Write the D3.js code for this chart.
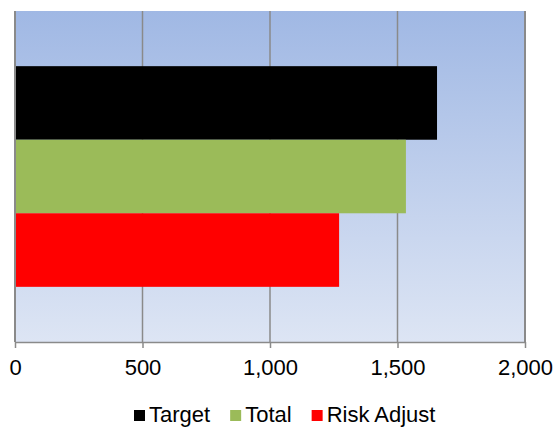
<!DOCTYPE html>
<html>
<head>
<meta charset="utf-8">
<script src="https://cdn.jsdelivr.net/npm/d3@7"></script>
<style>
  body { margin: 0; background: #fff; }
  svg text { font-family: "Liberation Sans", Arial, sans-serif; }
</style>
</head>
<body>
<div id="chart"></div>
<script>
// data
const categories = ["Project"];
const seriesNames = ["Target", "Total", "Risk Adjust"];
const seriesColors = ["#000000", "#9BBB59", "#FF0000"];
const targetValues = [1655];
const totalValues = [1533];
const riskAdjustValues = [1271];
const xTicks = [0, 500, 1000, 1500, 2000];

const seriesValues = [targetValues, totalValues, riskAdjustValues];

const width = 556, height = 427;
const margin = {top: 11, right: 31, bottom: 85, left: 15};
const plotW = width - margin.left - margin.right;
const plotH = height - margin.top - margin.bottom;

const svg = d3.select("#chart").append("svg")
    .attr("width", width)
    .attr("height", height);

// plot background gradient
const defs = svg.append("defs");
const grad = defs.append("linearGradient")
    .attr("id", "bg").attr("x1", 0).attr("y1", 0).attr("x2", 0).attr("y2", 1);
grad.append("stop").attr("offset", "0%").attr("stop-color", "#A0B8E4");
grad.append("stop").attr("offset", "100%").attr("stop-color", "#DDE5F4");

const g = svg.append("g").attr("transform", `translate(${margin.left},${margin.top})`);

g.append("rect")
    .attr("width", plotW).attr("height", plotH)
    .attr("fill", "url(#bg)");

const x = d3.scaleLinear().domain([0, 2000]).range([0, plotW]);

const y0 = d3.scaleBand().domain(categories).range([0, plotH])
    .paddingInner(0).paddingOuter(0.25);
const y1 = d3.scaleBand().domain(seriesNames).range([0, y0.bandwidth()]);

// gridlines
g.selectAll("line.grid")
  .data(xTicks.slice(1))
  .enter().append("line")
  .attr("class", "grid")
  .attr("x1", d => x(d)).attr("x2", d => x(d))
  .attr("y1", 0).attr("y2", plotH)
  .attr("stroke", "#8A8A8A")
  .attr("stroke-width", d => d === 2000 ? 2 : 1.5);

// bars
categories.forEach((cat, ci) => {
  seriesNames.forEach((name, si) => {
    g.append("rect")
      .attr("x", x(0))
      .attr("y", y0(cat) + y1(name))
      .attr("width", x(seriesValues[si][ci]) - x(0))
      .attr("height", y1.bandwidth())
      .attr("fill", seriesColors[si]);
  });
});

// left axis line
g.append("line")
    .attr("x1", 0).attr("x2", 0).attr("y1", 0).attr("y2", plotH)
    .attr("stroke", "#8A8A8A").attr("stroke-width", 2);

// bottom axis
const xAxis = g.append("g")
    .attr("transform", `translate(0,${plotH})`)
    .call(d3.axisBottom(x).tickValues(xTicks).tickSize(6).tickSizeOuter(0)
      .tickFormat(d3.format(",")));
xAxis.select(".domain").attr("stroke", "#8A8A8A").attr("stroke-width", 1.5);
xAxis.selectAll(".tick line").attr("stroke", "#8A8A8A").attr("stroke-width", 1.5);
xAxis.selectAll(".tick text")
    .attr("font-size", "22px")
    .attr("fill", "#000")
    .attr("y", 0)
    .attr("dy", "33px")
    .attr("font-family", "Liberation Sans, Arial, sans-serif");

// legend
const legend = svg.append("g").attr("transform", "translate(0,410)");
let lx = 134;
seriesNames.forEach((name, i) => {
  legend.append("rect")
    .attr("x", lx).attr("y", 0)
    .attr("width", 11).attr("height", 11)
    .attr("fill", seriesColors[i]);
  const t = legend.append("text")
    .attr("x", lx + 15).attr("y", 12)
    .attr("font-size", "22px")
    .attr("fill", "#000")
    .text(name);
  lx += 15 + t.node().getComputedTextLength() + 20;
});
</script>
</body>
</html>
